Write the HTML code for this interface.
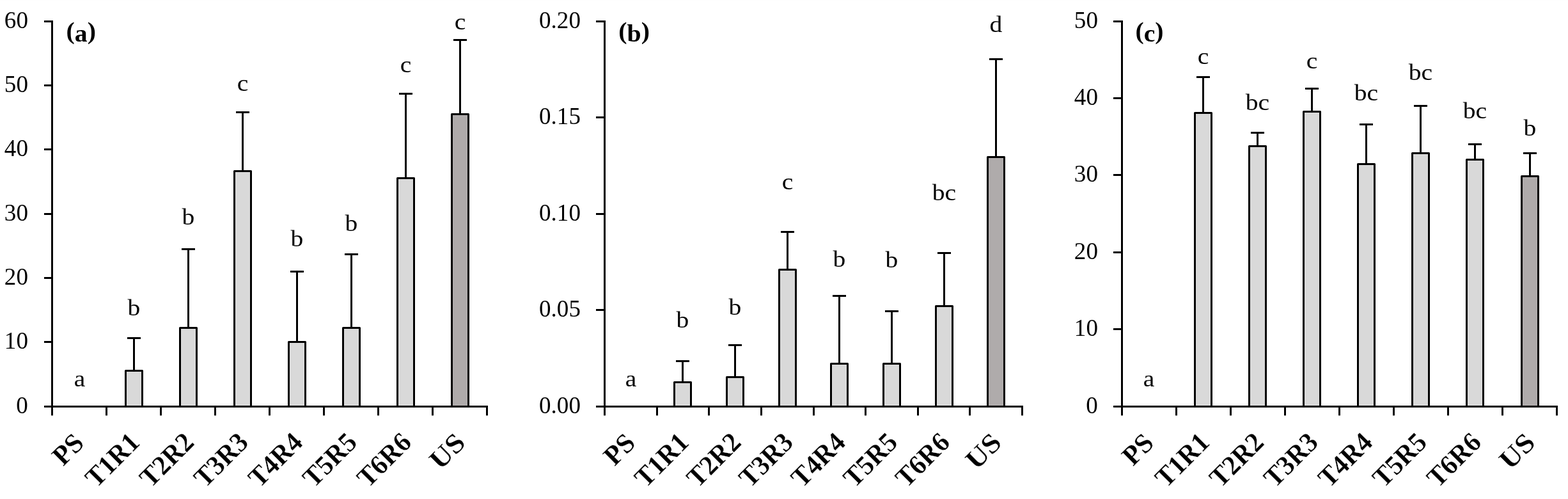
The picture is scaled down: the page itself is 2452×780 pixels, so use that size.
<!DOCTYPE html>
<html lang="en"><head><meta charset="utf-8"><title>Figure</title>
<style>
html,body{margin:0;padding:0;background:#fff;}
body{width:2452px;height:780px;overflow:hidden;}
svg{display:block;}
text{font-family:"Liberation Serif",serif;fill:#000;}
.tk{font-size:38px;text-anchor:end;}
.lb{font-size:35px;text-anchor:middle;}
.ct{font-size:43px;font-weight:bold;text-anchor:end;stroke:#fff;stroke-width:0.3px;}
.tt{font-size:38px;font-weight:bold;text-anchor:start;}
.ln{stroke:#000;stroke-width:3;fill:none;stroke-linecap:butt;}
.b1{fill:#d9d9d9;stroke:#000;stroke-width:3;stroke-linejoin:round;}
.b2{fill:#afabab;stroke:#000;stroke-width:3;stroke-linejoin:round;}
</style></head><body>
<svg width="2452" height="780" viewBox="0 0 2452 780">
<rect x="0" y="0" width="2452" height="780" fill="#ffffff"/>
<rect x="1" y="0" width="2451" height="1" fill="#fdfdfd"/>
<g>
<rect class="b1" x="196.50" y="579.50" width="26.00" height="56.00"/>
<path class="ln" d="M209.50 579.50V528.50M199.00 528.50H220.00"/>
<rect class="b1" x="281.50" y="512.50" width="26.00" height="123.00"/>
<path class="ln" d="M294.50 512.50V389.50M284.00 389.50H305.00"/>
<rect class="b1" x="366.50" y="267.50" width="26.00" height="368.00"/>
<path class="ln" d="M379.50 267.50V175.50M369.00 175.50H390.00"/>
<rect class="b1" x="451.50" y="534.50" width="26.00" height="101.00"/>
<path class="ln" d="M464.50 534.50V424.50M454.00 424.50H475.00"/>
<rect class="b1" x="536.50" y="512.50" width="26.00" height="123.00"/>
<path class="ln" d="M549.50 512.50V397.50M539.00 397.50H560.00"/>
<rect class="b1" x="621.50" y="278.50" width="26.00" height="357.00"/>
<path class="ln" d="M634.50 278.50V146.50M624.00 146.50H645.00"/>
<rect class="b2" x="706.50" y="178.50" width="26.00" height="457.00"/>
<path class="ln" d="M719.50 178.50V62.50M709.00 62.50H730.00"/>
<path class="ln" d="M81.50 32.00V649.50M69.00 635.50H763.00M69.00 534.50H81.50M69.00 434.50H81.50M69.00 334.50H81.50M69.00 233.50H81.50M69.00 133.50H81.50M69.00 33.50H81.50M166.50 635.50V649.50M251.50 635.50V649.50M336.50 635.50V649.50M421.50 635.50V649.50M506.50 635.50V649.50M591.50 635.50V649.50M676.50 635.50V649.50M761.50 635.50V649.50"/>
<text class="tk" transform="translate(43.90 645.50) scale(0.975 1)">0</text>
<text class="tk" transform="translate(43.90 545.17) scale(0.975 1)">10</text>
<text class="tk" transform="translate(43.90 444.83) scale(0.975 1)">20</text>
<text class="tk" transform="translate(43.90 344.50) scale(0.975 1)">30</text>
<text class="tk" transform="translate(43.90 244.17) scale(0.975 1)">40</text>
<text class="tk" transform="translate(43.90 143.83) scale(0.975 1)">50</text>
<text class="tk" transform="translate(43.90 43.50) scale(0.975 1)">60</text>
<text class="tt" transform="translate(103.50 64.50) scale(1.047 1)"><tspan dy="-3.6">(</tspan><tspan dy="3.6">a</tspan><tspan dy="-3.6">)</tspan></text>
<text class="lb" transform="translate(124.50 603.60) scale(1.13 1)">a</text>
<text class="lb" transform="translate(209.50 492.80) scale(1.13 1)">b</text>
<text class="lb" transform="translate(294.50 350.70) scale(1.13 1)">b</text>
<text class="lb" transform="translate(379.50 142.10) scale(1.13 1)">c</text>
<text class="lb" transform="translate(464.50 384.60) scale(1.13 1)">b</text>
<text class="lb" transform="translate(549.50 361.20) scale(1.13 1)">b</text>
<text class="lb" transform="translate(634.50 113.10) scale(1.13 1)">c</text>
<text class="lb" transform="translate(719.50 46.00) scale(1.13 1)">c</text>
<text class="ct" transform="translate(133.60 694.90) rotate(-45) scale(0.985 1)">PS</text>
<text class="ct" transform="translate(220.60 693.90) rotate(-45) scale(0.965 1)">T1R1</text>
<text class="ct" transform="translate(305.60 693.90) rotate(-45) scale(0.965 1)">T2R2</text>
<text class="ct" transform="translate(390.60 693.90) rotate(-45) scale(0.965 1)">T3R3</text>
<text class="ct" transform="translate(475.60 693.90) rotate(-45) scale(0.965 1)">T4R4</text>
<text class="ct" transform="translate(560.60 693.90) rotate(-45) scale(0.965 1)">T5R5</text>
<text class="ct" transform="translate(645.60 693.90) rotate(-45) scale(0.965 1)">T6R6</text>
<text class="ct" transform="translate(730.00 694.30) rotate(-45) scale(1.07 1)">US</text>
</g>
<g>
<rect class="b1" x="1054.50" y="597.50" width="26.00" height="38.00"/>
<path class="ln" d="M1067.50 597.50V564.50M1057.00 564.50H1078.00"/>
<rect class="b1" x="1136.50" y="589.50" width="26.00" height="46.00"/>
<path class="ln" d="M1149.50 589.50V539.50M1139.00 539.50H1160.00"/>
<rect class="b1" x="1218.50" y="421.50" width="26.00" height="214.00"/>
<path class="ln" d="M1231.50 421.50V362.50M1221.00 362.50H1242.00"/>
<rect class="b1" x="1299.50" y="568.50" width="26.00" height="67.00"/>
<path class="ln" d="M1312.50 568.50V462.50M1302.00 462.50H1323.00"/>
<rect class="b1" x="1381.50" y="568.50" width="26.00" height="67.00"/>
<path class="ln" d="M1394.50 568.50V486.50M1384.00 486.50H1405.00"/>
<rect class="b1" x="1463.50" y="478.50" width="26.00" height="157.00"/>
<path class="ln" d="M1476.50 478.50V395.50M1466.00 395.50H1487.00"/>
<rect class="b2" x="1544.50" y="245.50" width="26.00" height="390.00"/>
<path class="ln" d="M1557.50 245.50V92.50M1547.00 92.50H1568.00"/>
<path class="ln" d="M945.50 32.00V649.50M932.00 635.50H1600.00M932.00 484.50H945.50M932.00 334.50H945.50M932.00 183.50H945.50M932.00 33.50H945.50M1027.50 635.50V649.50M1108.50 635.50V649.50M1190.50 635.50V649.50M1272.50 635.50V649.50M1353.50 635.50V649.50M1435.50 635.50V649.50M1516.50 635.50V649.50M1598.50 635.50V649.50"/>
<text class="tk" transform="translate(907.90 645.50) scale(0.975 1)">0.00</text>
<text class="tk" transform="translate(907.90 495.00) scale(0.975 1)">0.05</text>
<text class="tk" transform="translate(907.90 344.50) scale(0.975 1)">0.10</text>
<text class="tk" transform="translate(907.90 194.00) scale(0.975 1)">0.15</text>
<text class="tk" transform="translate(907.90 43.50) scale(0.975 1)">0.20</text>
<text class="tt" transform="translate(967.30 64.50) scale(1.047 1)"><tspan dy="-3.6">(</tspan><tspan dy="3.6">b</tspan><tspan dy="-3.6">)</tspan></text>
<text class="lb" transform="translate(986.50 603.60) scale(1.13 1)">a</text>
<text class="lb" transform="translate(1067.50 511.90) scale(1.13 1)">b</text>
<text class="lb" transform="translate(1149.50 492.20) scale(1.13 1)">b</text>
<text class="lb" transform="translate(1231.50 296.20) scale(1.13 1)">c</text>
<text class="lb" transform="translate(1312.50 416.90) scale(1.13 1)">b</text>
<text class="lb" transform="translate(1394.50 418.00) scale(1.13 1)">b</text>
<text class="lb" transform="translate(1476.50 313.10) scale(1.13 1)">bc</text>
<text class="lb" transform="translate(1557.50 50.20) scale(1.13 1)">d</text>
<text class="ct" transform="translate(995.91 694.90) rotate(-45) scale(0.985 1)">PS</text>
<text class="ct" transform="translate(1079.54 693.90) rotate(-45) scale(0.965 1)">T1R1</text>
<text class="ct" transform="translate(1161.16 693.90) rotate(-45) scale(0.965 1)">T2R2</text>
<text class="ct" transform="translate(1242.79 693.90) rotate(-45) scale(0.965 1)">T3R3</text>
<text class="ct" transform="translate(1324.41 693.90) rotate(-45) scale(0.965 1)">T4R4</text>
<text class="ct" transform="translate(1406.04 693.90) rotate(-45) scale(0.965 1)">T5R5</text>
<text class="ct" transform="translate(1487.66 693.90) rotate(-45) scale(0.965 1)">T6R6</text>
<text class="ct" transform="translate(1568.69 694.30) rotate(-45) scale(1.07 1)">US</text>
</g>
<g>
<rect class="b1" x="1868.50" y="176.50" width="26.00" height="459.00"/>
<path class="ln" d="M1881.50 176.50V120.50M1871.00 120.50H1892.00"/>
<rect class="b1" x="1953.50" y="228.50" width="26.00" height="407.00"/>
<path class="ln" d="M1966.50 228.50V207.50M1956.00 207.50H1977.00"/>
<rect class="b1" x="2038.50" y="174.50" width="26.00" height="461.00"/>
<path class="ln" d="M2051.50 174.50V138.50M2041.00 138.50H2062.00"/>
<rect class="b1" x="2123.50" y="256.50" width="26.00" height="379.00"/>
<path class="ln" d="M2136.50 256.50V194.50M2126.00 194.50H2147.00"/>
<rect class="b1" x="2208.50" y="239.50" width="26.00" height="396.00"/>
<path class="ln" d="M2221.50 239.50V165.50M2211.00 165.50H2232.00"/>
<rect class="b1" x="2293.50" y="249.50" width="26.00" height="386.00"/>
<path class="ln" d="M2306.50 249.50V225.50M2296.00 225.50H2317.00"/>
<rect class="b2" x="2379.50" y="275.50" width="26.00" height="360.00"/>
<path class="ln" d="M2392.50 275.50V239.50M2382.00 239.50H2403.00"/>
<path class="ln" d="M1754.50 32.00V649.50M1741.00 635.50H2436.00M1741.00 514.50H1754.50M1741.00 394.50H1754.50M1741.00 273.50H1754.50M1741.00 153.50H1754.50M1741.00 33.50H1754.50M1839.50 635.50V649.50M1924.50 635.50V649.50M2009.50 635.50V649.50M2094.50 635.50V649.50M2179.50 635.50V649.50M2264.50 635.50V649.50M2349.50 635.50V649.50M2434.50 635.50V649.50"/>
<text class="tk" transform="translate(1716.90 645.50) scale(0.975 1)">0</text>
<text class="tk" transform="translate(1716.90 525.10) scale(0.975 1)">10</text>
<text class="tk" transform="translate(1716.90 404.70) scale(0.975 1)">20</text>
<text class="tk" transform="translate(1716.90 284.30) scale(0.975 1)">30</text>
<text class="tk" transform="translate(1716.90 163.90) scale(0.975 1)">40</text>
<text class="tk" transform="translate(1716.90 43.50) scale(0.975 1)">50</text>
<text class="tt" transform="translate(1775.40 64.50) scale(1.047 1)"><tspan dy="-3.6">(</tspan><tspan dy="3.6">c</tspan><tspan dy="-3.6">)</tspan></text>
<text class="lb" transform="translate(1796.50 603.60) scale(1.13 1)">a</text>
<text class="lb" transform="translate(1881.50 100.10) scale(1.13 1)">c</text>
<text class="lb" transform="translate(1966.50 172.10) scale(1.13 1)">bc</text>
<text class="lb" transform="translate(2051.50 107.30) scale(1.13 1)">c</text>
<text class="lb" transform="translate(2136.50 156.80) scale(1.13 1)">bc</text>
<text class="lb" transform="translate(2221.50 125.40) scale(1.13 1)">bc</text>
<text class="lb" transform="translate(2306.50 184.70) scale(1.13 1)">bc</text>
<text class="lb" transform="translate(2392.50 211.50) scale(1.13 1)">b</text>
<text class="ct" transform="translate(1806.60 694.90) rotate(-45) scale(0.985 1)">PS</text>
<text class="ct" transform="translate(1893.60 693.90) rotate(-45) scale(0.965 1)">T1R1</text>
<text class="ct" transform="translate(1978.60 693.90) rotate(-45) scale(0.965 1)">T2R2</text>
<text class="ct" transform="translate(2063.60 693.90) rotate(-45) scale(0.965 1)">T3R3</text>
<text class="ct" transform="translate(2148.60 693.90) rotate(-45) scale(0.965 1)">T4R4</text>
<text class="ct" transform="translate(2233.60 693.90) rotate(-45) scale(0.965 1)">T5R5</text>
<text class="ct" transform="translate(2318.60 693.90) rotate(-45) scale(0.965 1)">T6R6</text>
<text class="ct" transform="translate(2403.00 694.30) rotate(-45) scale(1.07 1)">US</text>
</g>
</svg>
</body></html>
